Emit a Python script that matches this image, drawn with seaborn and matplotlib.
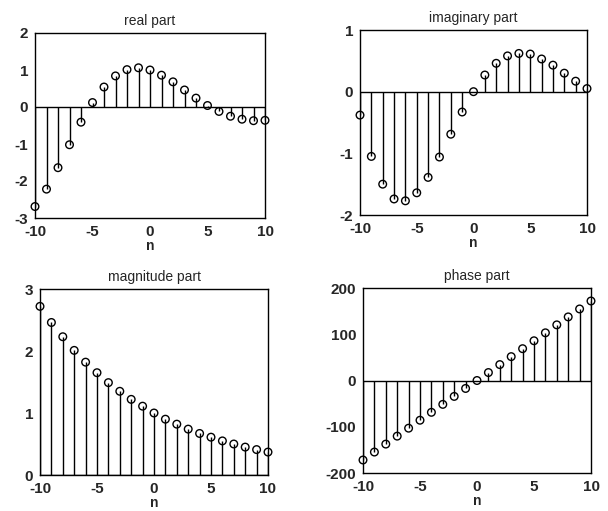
import matplotlib
matplotlib.use("Agg")
import matplotlib.pyplot as plt
import seaborn as sns
import pandas as pd

sns.set_theme(style="white")
plt.rcParams['font.family'] = ['Liberation Sans', 'DejaVu Sans']
plt.rcParams['axes.unicode_minus'] = False

n = [-10, -9, -8, -7, -6, -5, -4, -3, -2, -1, 0, 1, 2, 3, 4, 5, 6, 7, 8, 9, 10]
real_part = [-2.69, -2.22, -1.64, -1.02, -0.41, 0.12, 0.54, 0.84, 1.01, 1.06, 1.00,
             0.86, 0.68, 0.46, 0.24, 0.04, -0.12, -0.25, -0.33, -0.37, -0.36]
imag_part = [-0.38, -1.05, -1.50, -1.74, -1.77, -1.64, -1.39, -1.06, -0.69, -0.33, 0.00,
             0.27, 0.46, 0.58, 0.62, 0.61, 0.53, 0.43, 0.30, 0.17, 0.05]
magnitude = [2.72, 2.46, 2.23, 2.01, 1.82, 1.65, 1.49, 1.35, 1.22, 1.11, 1.00,
             0.90, 0.82, 0.74, 0.67, 0.61, 0.55, 0.50, 0.45, 0.41, 0.37]
phase = [-171.9, -154.7, -137.5, -120.3, -103.1, -85.9, -68.8, -51.6, -34.4, -17.2, 0.0,
         17.2, 34.4, 51.6, 68.8, 85.9, 103.1, 120.3, 137.5, 154.7, 171.9]

titles = ["real part", "imaginary part", "magnitude part", "phase part"]
series = [real_part, imag_part, magnitude, phase]
ylims = [(-3, 2), (-2, 1), (0, 3), (-200, 200)]
yticks = [[-3, -2, -1, 0, 1, 2], [-2, -1, 0, 1], [0, 1, 2, 3], [-200, -100, 0, 100, 200]]
xticks = [-10, -5, 0, 5, 10]

fig = plt.figure(figsize=(6.08, 5.11), dpi=100)
W, H = 608, 511
boxes = [(35, 33, 265, 218), (360, 30, 587, 215), (40, 289, 268, 475), (363, 288, 591, 473)]

for (x0, y0, x1, y1), title, vals, yl, yt in zip(boxes, titles, series, ylims, yticks):
    ax = fig.add_axes([x0 / W, 1 - y1 / H, (x1 - x0) / W, (y1 - y0) / H])
    df = pd.DataFrame({"n": n, "v": vals})
    ax.vlines(df["n"], 0, df["v"], color="black", linewidth=1.0)
    ax.axhline(0, color="black", linewidth=1.0)
    sns.scatterplot(data=df, x="n", y="v", ax=ax, marker="o", s=30,
                    facecolors="none", edgecolor="black", linewidth=1.0, zorder=3,
                    clip_on=False)
    ax.set_xlim(-10, 10)
    ax.set_ylim(*yl)
    ax.set_xticks(xticks)
    ax.set_yticks(yt)
    ax.set_xlabel("n", fontsize=10, fontweight="bold", labelpad=0)
    ax.set_ylabel("")
    ax.set_title(title, fontsize=10, pad=6)
    ax.tick_params(axis="both", direction="in", length=3, width=0.8, labelsize=11,
                   color="black")
    ax.tick_params(axis="x", pad=5)
    ax.tick_params(axis="y", pad=5)
    for lab in ax.get_xticklabels() + ax.get_yticklabels():
        lab.set_fontweight("bold")
    for sp in ax.spines.values():
        sp.set_color("black")
        sp.set_linewidth(1.0)

fig.savefig("out.png", dpi=100)
